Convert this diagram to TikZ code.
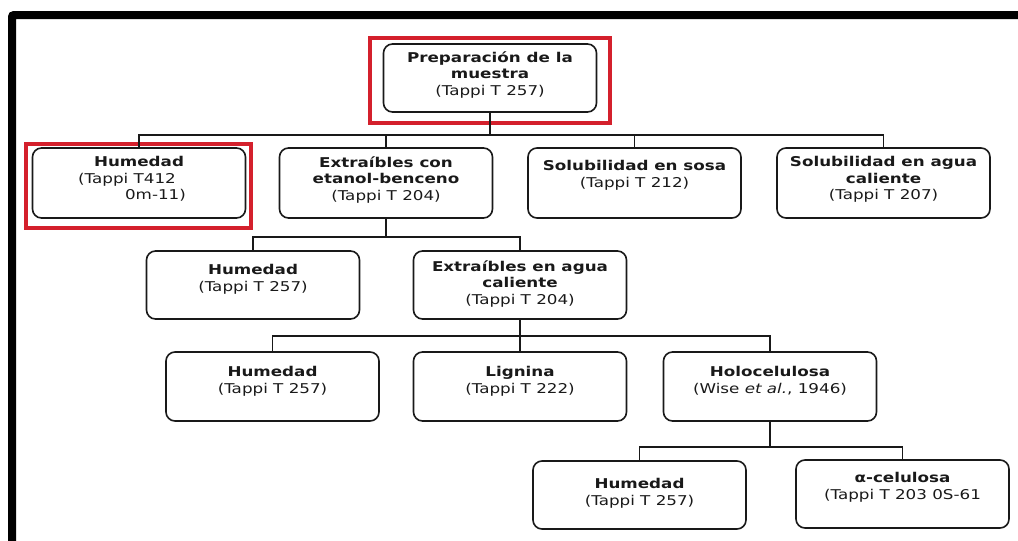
\documentclass[tikz,border=0pt]{standalone}
\usepackage{fontspec}
\setmainfont{DejaVu Sans}[FakeStretch=1.24]
\definecolor{redbox}{RGB}{212,32,44}
\definecolor{ink}{RGB}{25,25,25}
\begin{document}
\begin{tikzpicture}[x=1pt,y=-1pt,
  box/.style={draw=ink, line width=1.6pt, rounded corners=9pt, minimum width=213pt, minimum height=69pt, inner sep=0pt},
  lbl/.style={anchor=north, align=center, inner sep=0pt, text=ink, font=\fontsize{13.5}{16.5}\selectfont},
  hl/.style={draw=redbox, line width=3.3pt},
  link/.style={draw=ink, line width=1.6pt}]
\useasboundingbox (0,0) rectangle (1018,541);
% frame
\draw[line width=8pt, black, rounded corners=2pt] (12,541) -- (12,15) -- (1018,15);
% nodes
\node[box, minimum height=68pt] (prep) at (490,78) {};
\node[lbl] (prepT) at ([yshift=-8pt]prep.north) {\textbf{Preparación de la}\\\textbf{muestra}\\(Tappi T 257)};
\node[box, minimum height=70pt] (H1) at (139,183) {};
\node[lbl] (H1T) at ([yshift=-9pt]H1.north) {\textbf{Humedad}\\(Tappi T412\makebox[24pt]{}\\\makebox[33pt]{}0m-11)};
\node[box, minimum height=70pt] (E1) at (386,183) {};
\node[lbl] (E1T) at ([yshift=-9pt]E1.north) {\textbf{Extraíbles con}\\\textbf{etanol-benceno}\\(Tappi T 204)};
\node[box, minimum height=70pt] (S1) at (634.5,183) {};
\node[lbl] (S1T) at ([yshift=-13pt]S1.north) {\textbf{Solubilidad en sosa}\\(Tappi T 212)};
\node[box, minimum height=70pt] (A1) at (883.5,183) {};
\node[lbl] (A1T) at ([yshift=-9pt]A1.north) {\textbf{Solubilidad en agua}\\\textbf{caliente}\\(Tappi T 207)};
\node[box, minimum height=68pt] (H2) at (253,285) {};
\node[lbl] (H2T) at ([yshift=-14pt]H2.north) {\textbf{Humedad}\\(Tappi T 257)};
\node[box, minimum height=68pt] (E2) at (520,285) {};
\node[lbl] (E2T) at ([yshift=-10pt]E2.north) {\textbf{Extraíbles en agua}\\\textbf{caliente}\\(Tappi T 204)};
\node[box] (H3) at (272.5,386.5) {};
\node[lbl] (H3T) at ([yshift=-15pt]H3.north) {\textbf{Humedad}\\(Tappi T 257)};
\node[box] (L3) at (520,386.5) {};
\node[lbl] (L3T) at ([yshift=-15pt]L3.north) {\textbf{Lignina}\\(Tappi T 222)};
\node[box] (W3) at (770,386.5) {};
\node[lbl] (W3T) at ([yshift=-15pt]W3.north) {\textbf{Holocelulosa}\\(Wise \textit{et al.}, 1946)};
\node[box, minimum height=68pt] (H4) at (639.5,495) {};
\node[lbl] (H4T) at ([yshift=-18pt]H4.north) {\textbf{Humedad}\\(Tappi T 257)};
\node[box, minimum height=68pt] (C4) at (902.5,494) {};
\node[lbl] (C4T) at ([yshift=-13pt]C4.north) {\textbf{α-celulosa}\\(Tappi T 203 0S-61};
% highlights
\draw[hl] (370,38) rectangle (610,123);
\draw[hl] (26,144) rectangle (251,228);
% connectors
\coordinate (j1) at (490,135);
\coordinate (j2) at (386,237);
\coordinate (j3) at (520,336);
\coordinate (j4) at (770,447);
\draw[link] (prep.south) -- (j1) -| (H1.north) (j1) -| (E1.north) (j1) -| (S1.north) (j1) -| (A1.north);
\draw[link] (E1.south) -- (j2) -| (H2.north) (j2) -| (E2.north);
\draw[link] (E2.south) -- (j3) -| (H3.north) (j3) -| (L3.north) (j3) -| (W3.north);
\draw[link] (W3.south) -- (j4) -| (H4.north) (j4) -| (C4.north);
\end{tikzpicture}
\end{document}
